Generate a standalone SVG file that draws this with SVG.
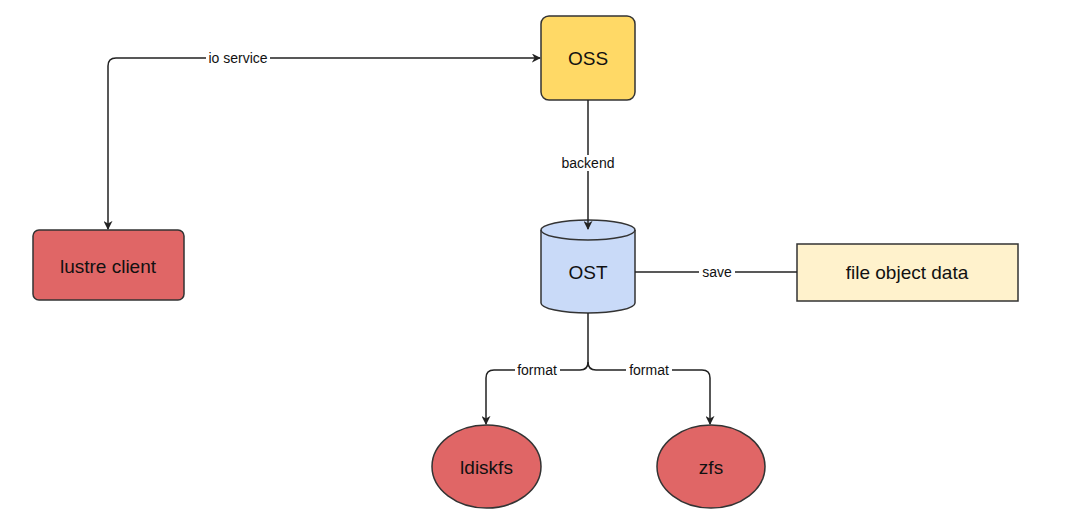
<svg xmlns="http://www.w3.org/2000/svg" width="1080" height="525" viewBox="0 0 1080 525">
<defs>
<marker id="arr" viewBox="0 0 10 10" refX="9" refY="5" markerWidth="9" markerHeight="9" markerUnits="userSpaceOnUse" orient="auto-start-reverse">
<path d="M0,0 L10,5 L0,10 L3,5 Z" fill="#222"/>
</marker>
<style>
.node{stroke:#333;stroke-width:1.5}
.t{font-family:"Liberation Sans",Arial,sans-serif;font-size:19px;fill:#111;text-anchor:middle;dominant-baseline:central}
.lbl{font-family:"Liberation Sans",Arial,sans-serif;font-size:14px;fill:#111;text-anchor:middle;dominant-baseline:central}
.edge{fill:none;stroke:#222;stroke-width:1.5}
</style>
</defs>
<rect width="1080" height="525" fill="#fff"/>
<g id="oss">
<rect class="node" x="541" y="16" width="94" height="84" rx="8" fill="#FFD966"/>
<text class="t" x="588" y="58">OSS</text>
</g>
<g id="ost">
<path class="node" d="M541,230 A47,10 0 0 1 635,230 L635,303 A47,10 0 0 1 541,303 Z" fill="#C9DAF8"/>
<path class="node" d="M541,230 A47,10 0 0 0 635,230" fill="none"/>
<text class="t" x="588" y="272">OST</text>
</g>
<g id="lustre-client">
<rect class="node" x="33" y="230" width="151" height="70" rx="6" fill="#E06666"/>
<text class="t" x="108" y="266">lustre client</text>
</g>
<g id="file-object-data">
<rect class="node" x="797" y="244" width="221" height="57" fill="#FFF2CC"/>
<text class="t" x="907" y="272">file object data</text>
</g>
<g id="ldiskfs">
<ellipse class="node" cx="486.5" cy="466.5" rx="54.5" ry="41.5" fill="#E06666"/>
<text class="t" x="486.5" y="467">ldiskfs</text>
</g>
<g id="zfs">
<ellipse class="node" cx="711" cy="466.5" rx="54" ry="41.5" fill="#E06666"/>
<text class="t" x="711" y="467">zfs</text>
</g>
<g id="connectors">
<path class="edge" d="M108,229 L108,66 Q108,58 116,58 L540,58" marker-start="url(#arr)" marker-end="url(#arr)"/>
<path class="edge" d="M588,100 L588,229" marker-end="url(#arr)"/>
<path class="edge" d="M635,272 L797,272"/>
<path class="edge" d="M588,313 L588,362 Q588,370 580,370 L494,370 Q486,370 486,378 L486,424" marker-end="url(#arr)"/>
<path class="edge" d="M588,362 Q588,370 596,370 L702,370 Q710,370 710,378 L710,424" marker-end="url(#arr)"/>
<rect x="206" y="50" width="64" height="16" fill="#fff"/>
<text class="lbl" x="238" y="58">io service</text>
<rect x="559" y="155" width="58" height="16" fill="#fff"/>
<text class="lbl" x="588" y="163">backend</text>
<rect x="699" y="264" width="36" height="16" fill="#fff"/>
<text class="lbl" x="717" y="272">save</text>
<rect x="515" y="362" width="45" height="16" fill="#fff"/>
<text class="lbl" x="537" y="370">format</text>
<rect x="626" y="362" width="46" height="16" fill="#fff"/>
<text class="lbl" x="649" y="370">format</text>
</g>
</svg>
